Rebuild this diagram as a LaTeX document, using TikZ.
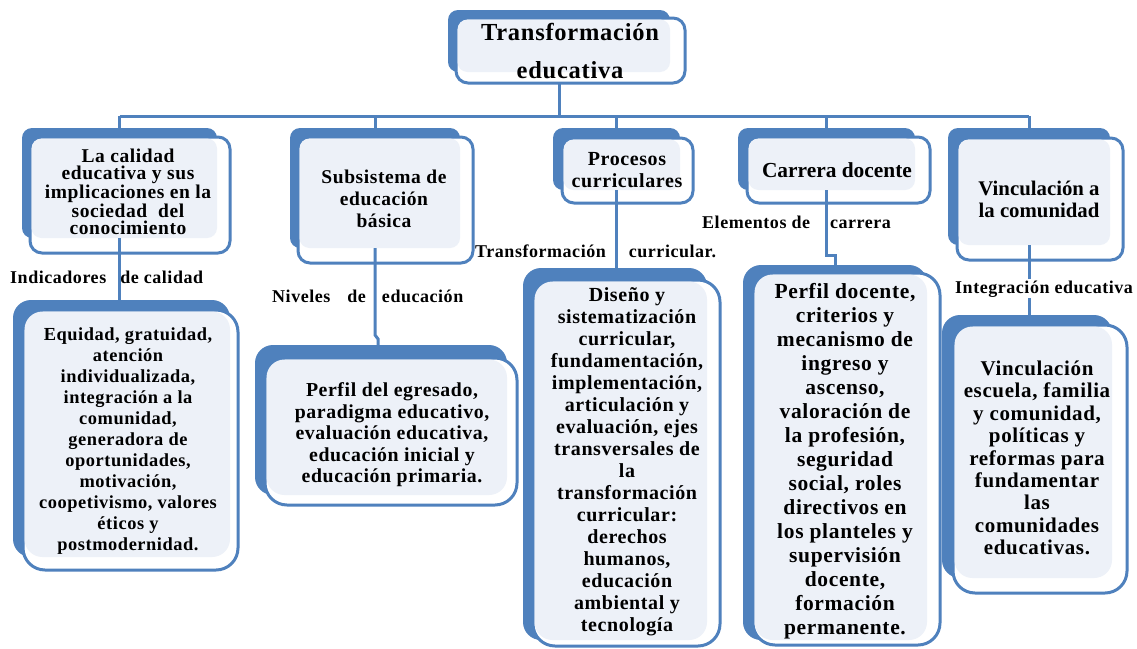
\documentclass[tikz,border=0pt]{standalone}
\usepackage{fontspec}
\setmainfont{Liberation Serif}
\usetikzlibrary{fit}
\definecolor{blu}{HTML}{4F81BD}
\definecolor{lite}{HTML}{EDF1F8}
\newcommand{\rb}{10pt}
\newcommand{\rf}{12pt}
\newcommand{\dbox}[9]{%
  \coordinate (#1-b1) at (#2,#3);
  \coordinate (#1-b2) at (#4,#5);
  \coordinate (#1-f1) at (#6,#7);
  \coordinate (#1-f2) at (#8,#9);
  \node[backbox, rounded corners=\rb, fit=(#1-b1)(#1-b2)] (#1-back) {};
  \node[frontbox, rounded corners=\rf, fit=(#1-f1)(#1-f2)] (#1) {};
  \fill[lite, rounded corners=\rb] ([shift={(1.5pt,-1.5pt)}]#1.north west) rectangle (#1-back.south east);
}
\newcommand{\fs}[2]{\bfseries\fontsize{#1}{#2}\selectfont\addfontfeature{LetterSpace=3}}
\tikzset{
  backbox/.style={fill=blu, inner sep=0pt, outer sep=0pt},
  frontbox/.style={draw=blu, line width=3pt, fill=white, inner sep=0pt, outer sep=0pt},
  txt/.style={align=center, text=black, inner sep=0pt},
  conn/.style={draw=blu, line width=3pt},
  lbl/.style={anchor=base west, inner sep=0pt, text=black, font=\fs{18}{20}},
}
\begin{document}
\begin{tikzpicture}[x=1pt, y=-1pt]
\clip (0,0) rectangle (1137,648);
\fill[white] (0,0) rectangle (1137,648);
% boxes
\dbox{t}{448}{10}{670}{72}{456}{18}{685}{83}
\dbox{a}{22}{128}{217}{238}{30}{137}{230}{253}
\dbox{b}{290}{128}{460}{248}{298}{137}{473}{263}
\dbox{c}{553}{128}{680}{190}{562}{138}{693}{203}
\dbox{d}{738}{128}{915}{190}{747}{137}{930}{203}
\dbox{e}{948}{128}{1110}{245}{957}{138}{1123}{260}
\renewcommand{\rb}{18pt}\renewcommand{\rf}{22pt}
\dbox{aa}{13}{300}{230}{557}{23}{310}{238}{570}
\dbox{bb}{255}{345}{507}{495}{265}{358}{517}{505}
\dbox{cc}{523}{268}{707}{640}{533}{280}{720}{646}
\dbox{dd}{743}{265}{927}{640}{753}{273}{940}{645}
\dbox{ee}{942}{315}{1112}{578}{953}{325}{1127}{593}
% texts
\node[txt, font=\fs{24.5}{38}] (tt) at (570,51) {Transformación\\educativa};
\node[txt, font=\fs{19.5}{17.5}] (at) at (128,192) {La calidad\\educativa y sus\\implicaciones en la\\sociedad\ \ del\\conocimiento};
\node[txt, font=\fs{18.4}{21}] (aat) at (128,441) {Equidad, gratuidad,\\atención\\individualizada,\\integración a la\\comunidad,\\generadora de\\oportunidades,\\motivación,\\coopetivismo, valores\\éticos y\\postmodernidad.};
\node[txt, font=\fs{19.5}{22}] (bt) at (384,199) {Subsistema de\\educación\\básica};
\node[txt, font=\fs{19.8}{21.5}] (bbt) at (392,435) {Perfil del egresado,\\paradigma educativo,\\evaluación educativa,\\educación inicial y\\educación primaria.};
\node[txt, font=\fs{20}{22}] (ct) at (627,170) {Procesos\\curriculares};
\node[txt, font=\fs{20}{22}] (cct) at (627,462) {Diseño y\\sistematización\\curricular,\\fundamentación,\\implementación,\\articulación y\\evaluación, ejes\\transversales de\\la\\transformación\\curricular:\\derechos\\humanos,\\educación\\ambiental y\\tecnología};
\node[txt, font=\bfseries\fontsize{21.4}{22}\selectfont] (dt) at (837,170) {Carrera docente};
\node[txt, font=\fs{21.5}{24}] (ddt) at (845,461) {Perfil docente,\\criterios y\\mecanismo de\\ingreso y\\ascenso,\\valoración de\\la profesión,\\seguridad\\social, roles\\directivos en\\los planteles y\\supervisión\\docente,\\formación\\permanente.};
\node[txt, font=\bfseries\fontsize{20.8}{22}\selectfont] (et) at (1039,199) {Vinculación a\\la comunidad};
\node[txt, font=\fs{21}{22.4}] (eet) at (1037,458) {Vinculación\\escuela, familia\\y comunidad,\\políticas y\\reformas para\\fundamentar\\las\\comunidades\\educativas.};
% connectors
\coordinate (bus) at (0,116);
\draw[conn] ([xshift=-11pt]t.south) -- ([xshift=-11pt]t.south |- bus);
\draw[conn] (a-back.north |- bus) -- (e-back.north |- bus);
\foreach \n in {a,b,c,d,e} {\draw[conn] (\n-back.north |- bus) -- (\n-back.north);}
\draw[conn] (a-back.south) -- (a-back.south |- aa-back.north);
\draw[conn] (b-back.south) -- ([yshift=10pt]b-back.south |- bb-back.north) -- ([shift={(3pt,6pt)}]b-back.south |- bb-back.north) -- ([xshift=3pt]b-back.south |- bb-back.north);
\draw[conn] (c-back.south) -- (c-back.south |- cc-back.north);
\coordinate (djog) at (0,255);
\draw[conn] (d-back.south) -- (d-back.south |- djog) -- (dd-back.north |- djog) -- (dd-back.north);
\draw[conn] (e-back.south) -- (e-back.south |- ee-back.north);
% labels
\node[lbl] (l1) at (10,283) {Indicadores\hspace{14pt}de calidad};
\node[lbl] (l2) at (272,302) {Niveles\hspace{17pt}de\hspace{16pt}educación};
\node[lbl] (l3) at (475,257) {Transformación\hspace{23pt}curricular.};
\node[lbl] (l4) at (702,228) {Elementos de\hspace{20pt}carrera};
\node[lbl, fill=white, inner sep=1pt] (l5) at (954,293) {Integración educativa};
\end{tikzpicture}
\end{document}
